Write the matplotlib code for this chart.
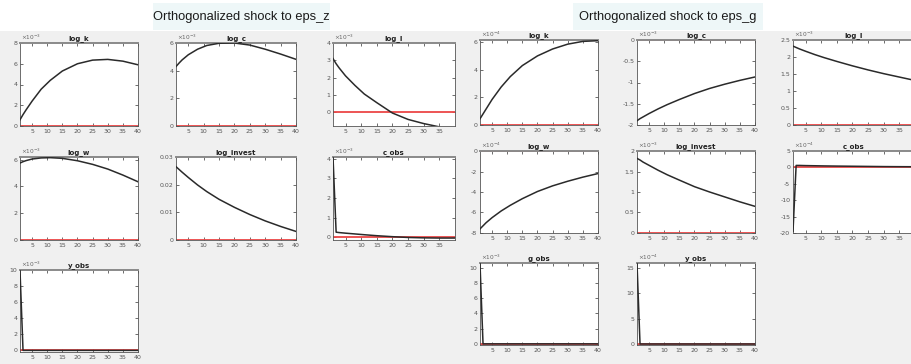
import matplotlib
matplotlib.use("Agg")
import matplotlib.pyplot as plt
from matplotlib.patches import Rectangle
import numpy as np

W, H, DPI = 912, 364, 100

# ---------------- data ----------------
periods = [1, 2, 3, 5, 8, 11, 15, 20, 25, 30, 35, 40]

# Orthogonalized shock to eps_z
z_log_k = [0.6, 1.1, 1.55, 2.4, 3.55, 4.4, 5.3, 6.0, 6.35, 6.42, 6.25, 5.9]          # x1e-3
z_log_c = [4.3, 4.55, 4.78, 5.15, 5.55, 5.82, 5.98, 6.0, 5.85, 5.55, 5.2, 4.82]      # x1e-3
z_log_l = [3.1, 2.8, 2.55, 2.1, 1.55, 1.05, 0.55, -0.05, -0.42, -0.66, -0.85, -1.0]  # x1e-3
z_log_w = [5.75, 5.85, 5.93, 6.05, 6.13, 6.15, 6.1, 5.92, 5.65, 5.3, 4.85, 4.35]     # x1e-3
z_log_invest = [0.0265, 0.0255, 0.0245, 0.0226, 0.0199, 0.0175, 0.0147, 0.0118,
                0.0092, 0.0069, 0.0049, 0.0031]
z_c_obs = [4.1, 0.25, 0.23, 0.2, 0.16, 0.12, 0.07, 0.02, -0.02, -0.04, -0.05, -0.05]  # x1e-3
z_y_obs = [9.9, -0.1, -0.1, -0.1, -0.1, -0.1, -0.1, -0.1, -0.1, -0.1, -0.1, -0.1]   # x1e-3

# Orthogonalized shock to eps_g
g_log_k = [0.45, 0.8, 1.15, 1.85, 2.75, 3.5, 4.3, 5.0, 5.5, 5.85, 6.05, 6.1]          # x1e-4
g_log_c = [-1.9, -1.85, -1.81, -1.73, -1.62, -1.52, -1.40, -1.26, -1.14, -1.04, -0.95, -0.87]  # x1e-3
g_log_l = [2.32, 2.28, 2.24, 2.17, 2.07, 1.98, 1.87, 1.74, 1.62, 1.51, 1.41, 1.31]    # x1e-3
g_log_w = [-7.6, -7.3, -7.0, -6.5, -5.85, -5.3, -4.65, -3.95, -3.4, -2.95, -2.55, -2.2]  # x1e-4
g_log_invest = [1.82, 1.78, 1.73, 1.65, 1.53, 1.42, 1.29, 1.13, 1.0, 0.88, 0.76, 0.65]  # x1e-3
g_c_obs = [-19.5, 0.6, 0.6, 0.55, 0.5, 0.45, 0.4, 0.35, 0.3, 0.25, 0.22, 0.2]          # x1e-4
g_g_obs = [10.5, 0, 0, 0, 0, 0, 0, 0, 0, 0, 0, 0]                                      # x1e-3
g_y_obs = [15.8, 0, 0, 0, 0, 0, 0, 0, 0, 0, 0, 0]                                      # x1e-4

xticks = [5, 10, 15, 20, 25, 30, 35, 40]
xticks_cut = [5, 10, 15, 20, 25, 30, 35]
title_z = "Orthogonalized shock to eps_z"
title_g = "Orthogonalized shock to eps_g"

# ---------------- figure ----------------
fig = plt.figure(figsize=(W / DPI, H / DPI), dpi=DPI, facecolor="#f0f0f0")

def px_rect(l, t, r, b):
    return [l / W, 1 - b / H, (r - l) / W, (b - t) / H]

# white strip at top
fig.add_artist(Rectangle((0, 1 - 31 / H), 1, 31 / H, transform=fig.transFigure,
                         facecolor="white", edgecolor="none", zorder=0))
# title boxes
for (l, r, txt) in [(153, 330, title_z), (573, 763, title_g)]:
    fig.add_artist(Rectangle((l / W, 1 - 30 / H), (r - l) / W, 27 / H,
                             transform=fig.transFigure, facecolor="#eef7f8",
                             edgecolor="none", zorder=1))
    fig.text((l + r) / 2 / W, 1 - 17 / H, txt, ha="center", va="center",
             fontsize=9.3, family=["Liberation Sans Narrow", "Liberation Sans", "DejaVu Sans"],
             color="#1a1a1a", zorder=2)

def panel(rect, name, y, ylim, yticks, yticklabels, exp, xt=xticks):
    ax = fig.add_axes(px_rect(*rect))
    ax.set_facecolor("white")
    ax.axhline(0, color="#ec4646", lw=1.3, zorder=2)
    ax.plot(periods, y, color="#2a2a2a", lw=1.1, zorder=3)
    ax.set_xlim(1, 40)
    ax.set_ylim(*ylim)
    ax.set_xticks(xt)
    ax.set_xticklabels([str(v) for v in xt])
    ax.set_yticks(yticks)
    ax.set_yticklabels(yticklabels)
    ax.tick_params(direction="in", length=2, width=0.5, labelsize=4.5,
                   colors="#333333", labelcolor="#555555", top=True, right=True, pad=2)
    for s in ax.spines.values():
        s.set_color("#555555")
        s.set_linewidth(0.6)
    ax.spines["top"].set_color("#8a8a8a")
    ax.spines["top"].set_linewidth(1.4)
    ax.set_title(name, fontsize=5, fontweight="bold", color="#222222", pad=2)
    if exp is not None:
        ax.text(0.01, 1.015, r"$\times10^{%d}$" % exp, transform=ax.transAxes,
                fontsize=4.2, color="#666666", ha="left", va="bottom")
    return ax

# left figure columns / rows (pixels)
LC = [(20, 138), (176, 296), (333, 455)]
LR = [(43, 126), (157, 240), (270, 352)]
RC = [(480, 598), (637, 755), (793, 915)]
RR = [(40, 125), (151, 233), (263, 345)]

def R(cols, rows, c, r):
    return (cols[c][0], rows[r][0], cols[c][1], rows[r][1])

panel(R(LC, LR, 0, 0), "log_k", z_log_k, (0, 8), [0, 2, 4, 6, 8], ["0", "2", "4", "6", "8"], -3)
panel(R(LC, LR, 1, 0), "log_c", z_log_c, (0, 6), [0, 2, 4, 6], ["0", "2", "4", "6"], -3)
panel(R(LC, LR, 2, 0), "log_l", z_log_l, (-0.8, 4), [0, 1, 2, 3, 4], ["0", "1", "2", "3", "4"], -3,
      xticks_cut)
panel(R(LC, LR, 0, 1), "log_w", z_log_w, (0, 6.2), [0, 2, 4, 6], ["0", "2", "4", "6"], -3)
panel(R(LC, LR, 1, 1), "log_invest", z_log_invest, (0, 0.03), [0, 0.01, 0.02, 0.03],
      ["0", "0.01", "0.02", "0.03"], None)
panel(R(LC, LR, 2, 1), "c_obs", z_c_obs, (-0.15, 4.1), [0, 1, 2, 3, 4], ["0", "1", "2", "3", "4"], -3,
      xticks_cut)
panel(R(LC, LR, 0, 2), "y_obs", z_y_obs, (-0.3, 10), [0, 2, 4, 6, 8, 10],
      ["0", "2", "4", "6", "8", "10"], -3)

panel(R(RC, RR, 0, 0), "log_k", g_log_k, (0, 6.15), [0, 2, 4, 6], ["0", "2", "4", "6"], -4)
panel(R(RC, RR, 1, 0), "log_c", g_log_c, (-2, 0), [-2, -1.5, -1, -0.5, 0],
      ["-2", "-1.5", "-1", "-0.5", "0"], -3)
panel(R(RC, RR, 2, 0), "log_l", g_log_l, (0, 2.5), [0, 0.5, 1, 1.5, 2, 2.5],
      ["0", "0.5", "1", "1.5", "2", "2.5"], -3, xticks_cut)
panel(R(RC, RR, 0, 1), "log_w", g_log_w, (-8, 0), [-8, -6, -4, -2, 0],
      ["-8", "-6", "-4", "-2", "0"], -4)
panel(R(RC, RR, 1, 1), "log_invest", g_log_invest, (0, 2), [0, 0.5, 1, 1.5, 2],
      ["0", "0.5", "1", "1.5", "2"], -3)
panel(R(RC, RR, 2, 1), "c_obs", g_c_obs, (-20, 5), [-20, -15, -10, -5, 0, 5],
      ["-20", "-15", "-10", "-5", "0", "5"], -4, xticks_cut)
panel(R(RC, RR, 0, 2), "g_obs", g_g_obs, (-0.15, 10.6), [0, 2, 4, 6, 8, 10],
      ["0", "2", "4", "6", "8", "10"], -3)
panel(R(RC, RR, 1, 2), "y_obs", g_y_obs, (-0.2, 15.9), [0, 5, 10, 15],
      ["0", "5", "10", "15"], -4)

fig.savefig("out.png", dpi=DPI, facecolor=fig.get_facecolor())
